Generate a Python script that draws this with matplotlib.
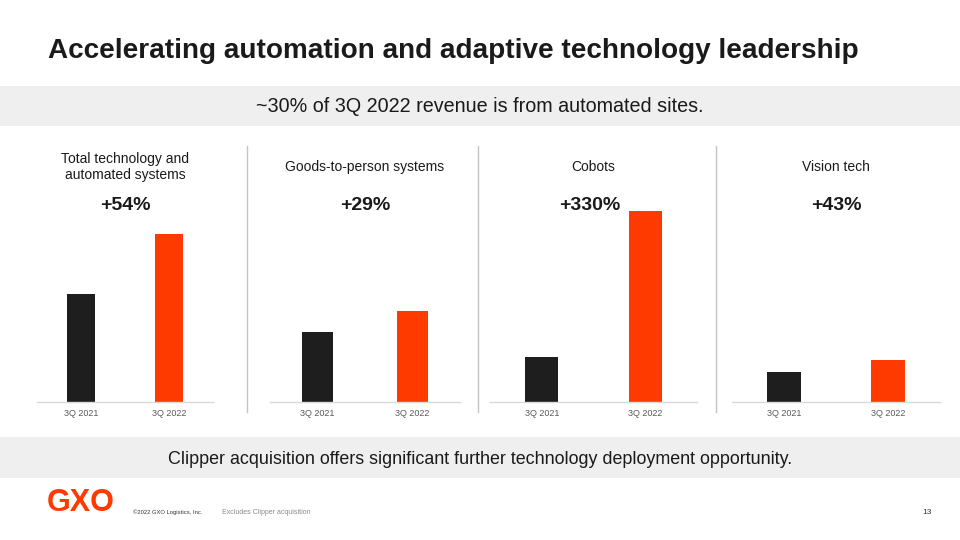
import matplotlib
matplotlib.use("Agg")
import matplotlib.pyplot as plt
from matplotlib.patches import Rectangle
from matplotlib.lines import Line2D

plt.rcParams["font.family"] = ["Liberation Sans", "DejaVu Sans"]

W, H = 960, 540

title = "Accelerating automation and adaptive technology leadership"
banner_top = "~30% of 3Q 2022 revenue is from automated sites."
banner_bottom = "Clipper acquisition offers significant further technology deployment opportunity."

periods = ["3Q 2021", "3Q 2022"]
panel_titles = ["Total technology and\nautomated systems", "Goods-to-person systems",
                "Cobots", "Vision tech"]
growth_labels = ["+54%", "+29%", "+330%", "+43%"]
# bar heights (shared index scale)
values_2021 = [108, 70, 45, 30]
values_2022 = [168, 91, 191, 42]

BLACK = "#1e1e1e"
ORANGE = "#ff3a00"
GREY_BAND = "#efefef"

# panel extents in pixels (left, right of the axis line)
panel_x = [(37, 213), (270, 460), (490, 697), (732, 940)]
label_shift = [0, 0, -4, 0]  # the +330% sits a bit left of centre
base_y, top_y = 402, 140
dividers = [247, 478, 716]


def fx(px):
    return px / W


def fy(py):
    return 1 - py / H


fig = plt.figure(figsize=(9.6, 5.4), dpi=100)
fig.patch.set_facecolor("white")

# title
fig.text(fx(48), fy(51), title, fontsize=20.1, fontweight="bold", color="#1a1a1a",
         ha="left", va="center")

# grey bands
for y0, y1, txt, fs, ty in [(86, 126, banner_top, 14.2, 106),
                            (437, 478, banner_bottom, 12.9, 460)]:
    fig.patches.append(Rectangle((0, fy(y1)), 1, fy(y0) - fy(y1), transform=fig.transFigure,
                                 facecolor=GREY_BAND, edgecolor="none", zorder=0))
    fig.text(0.5, fy(ty), txt, fontsize=fs, color="#1a1a1a", ha="center", va="center")

# vertical dividers
for x in dividers:
    fig.lines.append(Line2D([fx(x), fx(x)], [fy(412), fy(146)], transform=fig.transFigure,
                            color="#c4c4c4", lw=1))

for i, (x0, x1) in enumerate(panel_x):
    ax = fig.add_axes([fx(x0), fy(base_y), fx(x1) - fx(x0), fy(top_y) - fy(base_y)])
    ax.bar([0, 1], [values_2021[i], values_2022[i]], width=0.32, color=[BLACK, ORANGE])
    ax.set_xlim(-0.5, 1.5)
    ax.set_ylim(0, base_y - top_y)
    ax.set_xticks([0, 1])
    ax.set_xticklabels(periods, fontsize=6.5, color="#595959")
    ax.tick_params(axis="x", length=0, pad=5)
    ax.set_yticks([])
    for s in ["top", "left", "right"]:
        ax.spines[s].set_visible(False)
    ax.spines["bottom"].set_color("#d9d9d9")
    ax.spines["bottom"].set_linewidth(1)
    ax.patch.set_alpha(0)

    cx = (x0 + x1) / 2
    fig.text(fx(cx), fy(167), panel_titles[i], fontsize=10, color="#1a1a1a",
             ha="center", va="center", linespacing=1.1)
    fig.text(fx(cx + label_shift[i]), fy(205), growth_labels[i], fontsize=14,
             fontweight="bold", color="#1a1a1a", ha="center", va="center")

# footer
fig.text(fx(47), fy(503), "GXO", fontsize=22, fontweight="heavy", color=ORANGE,
         ha="left", va="center")
fig.text(fx(133), fy(512), "\u00a92022 GXO Logistics, Inc.", fontsize=4.2, color="#333333",
         ha="left", va="center")
fig.text(fx(222), fy(512), "Excludes Clipper acquisition", fontsize=5.0, color="#8c8c8c",
         ha="left", va="center")
fig.text(fx(932), fy(512), "13", fontsize=6, color="#333333", ha="right", va="center")

fig.savefig("out.png", dpi=100)
